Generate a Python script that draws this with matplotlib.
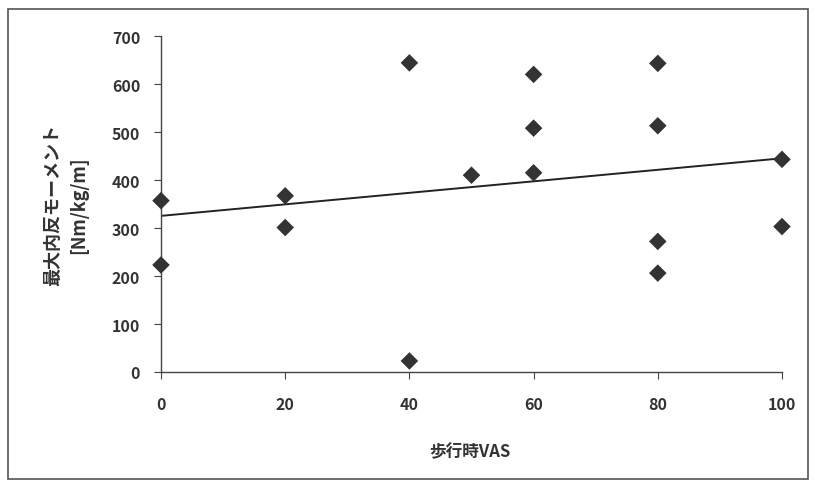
import matplotlib
matplotlib.use("Agg")
import matplotlib.pyplot as plt
import numpy as np
from matplotlib.patches import Rectangle

plt.rcParams['font.family'] = ['Noto Sans CJK JP', 'DejaVu Sans']

vas = [0, 0, 20, 20, 40, 40, 50, 60, 60, 60, 80, 80, 80, 80, 100, 100]
moment = [357, 223, 367, 301, 644, 23, 410, 620, 508, 415, 643, 513, 272, 206, 443, 303]
x_ticks = [0, 20, 40, 60, 80, 100]
y_ticks = [0, 100, 200, 300, 400, 500, 600, 700]

W, H = 815, 489
fig = plt.figure(figsize=(W / 100, H / 100), dpi=100)
ax = fig.add_axes([161 / W, 1 - 373 / H, (782 - 161) / W, (373 - 37) / H])

# outer frame
fig.patches.append(Rectangle((8 / W, 1 - 480 / H), 800 / W, 470 / H, transform=fig.transFigure,
                             fill=False, edgecolor='#555555', linewidth=1.2))

ax.scatter(vas, moment, marker='D', s=80, color='#333333', zorder=3, edgecolors='none',
           clip_on=False)

slope, intercept = np.polyfit(vas, moment, 1)
xs = np.array([0, 100])
ax.plot(xs, intercept + slope * xs, color='#222222', linewidth=1.4, zorder=2)

ax.set_xlim(0, 100)
ax.set_ylim(0, 700)
ax.set_xticks(x_ticks)
ax.set_yticks(y_ticks)
for s in ['top', 'right']:
    ax.spines[s].set_visible(False)
for s in ['left', 'bottom']:
    ax.spines[s].set_color('#444444')
    ax.spines[s].set_linewidth(1.0)
ax.tick_params(axis='both', direction='out', length=5, color='#444444', labelsize=11.5,
               labelcolor='#333333')
ax.tick_params(axis='x', pad=12)
ax.tick_params(axis='y', pad=10)
for lab in ax.get_xticklabels() + ax.get_yticklabels():
    lab.set_fontweight('bold')

fig.text(470 / W, 1 - 452 / H, '歩行時VAS', ha='center', va='center', fontsize=12,
         fontweight='bold', color='#333333')
fig.text(66 / W, 1 - 205 / H, '最大内反モーメント\n[Nm/kg/m]', ha='center', va='center',
         rotation=90, fontsize=13, fontweight='bold', color='#333333', linespacing=1.45)

fig.savefig('out.png', dpi=100)
